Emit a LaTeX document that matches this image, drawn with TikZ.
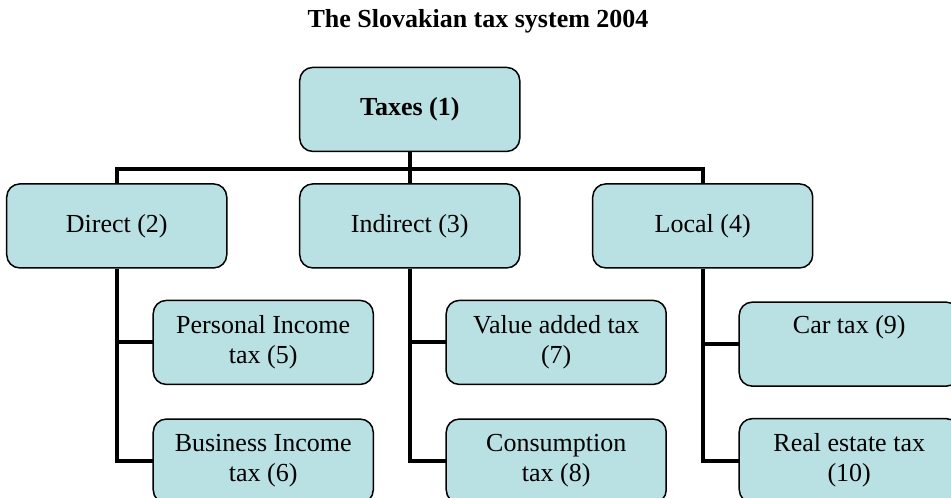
\documentclass[tikz,border=0pt]{standalone}
\usepackage{fontspec}
\setmainfont{Liberation Serif}
\usetikzlibrary{matrix}
\usetikzlibrary{positioning, calc}
\definecolor{boxfill}{RGB}{185,224,227}
\tikzset{
  font={\fontsize{26pt}{30pt}\selectfont}}
\tikzset{
  taxbox/.style={draw=black, fill=boxfill, line width=1.5pt, rounded corners=13pt,
    text width=200pt, inner xsep=10pt, minimum height=84pt, align=flush center},
  link/.style={line width=4pt}}

\begin{document}
\begin{tikzpicture}
     \useasboundingbox (0,0) rectangle (951pt,498pt);
     \node[font={\fontsize{26pt}{30pt}\selectfont\bfseries}] (title) at (478pt,477pt) {The Slovakian tax system 2004};
     \matrix (tree) at (483pt,212.75pt) [%
       matrix of nodes,
       column sep=-75pt,
       row sep=31pt,
       nodes = {taxbox},
     ]
     {
                   &                             & \textbf{Taxes (1)} &                         &           &                         \\
       Direct (2)  &                             & Indirect (3)       &                         & Local (4) &                         \\
                   & {Personal Income\\ tax (5)} &                    & {Value added tax\\ (7)} &           & {Car tax (9)\\ \strut}  \\
                   & {Business Income\\ tax (6)} &                    & {Consumption\\ tax (8)} &           & {Real estate tax\\ (10)}\\
     };
     \coordinate (bus) at ($(tree-1-3.south)+(0,-17pt)$);
     \draw[link] (tree-1-3.south) -- (tree-2-3.north);
     \draw[link] (tree-2-1.north) |- (bus) -| (tree-2-5.north);

     %%
     \draw[link] (tree-2-1.south) |- (tree-3-2.west);
     \draw[link] (tree-2-1.south) |- (tree-4-2.west);

     \draw[link] (tree-2-3.south) |- (tree-3-4.west);
     \draw[link] (tree-2-3.south) |- (tree-4-4.west);

     \draw[link] (tree-2-5.south) |- (tree-3-6.west);
     \draw[link] (tree-2-5.south) |- (tree-4-6.west);
   \end{tikzpicture}
\end{document}
